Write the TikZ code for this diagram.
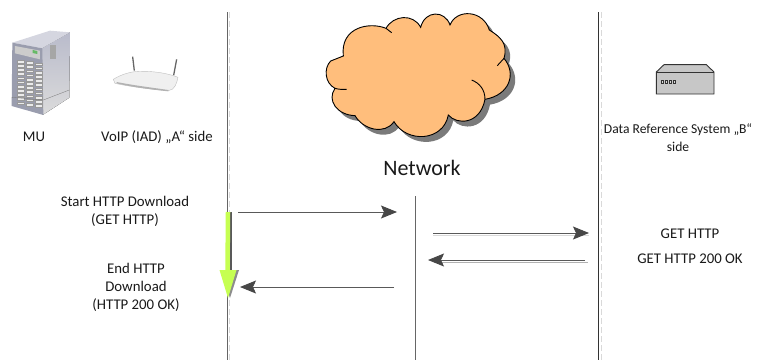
\documentclass[tikz,border=0pt]{standalone}
\usepackage{fontspec}
\setmainfont{Carlito}
\usetikzlibrary{arrows.meta}
\definecolor{cloudfill}{HTML}{FFBE7C}
\definecolor{gogreen}{HTML}{C6FF52}
\definecolor{srvfront}{HTML}{9A9DAE}
\definecolor{srvside}{HTML}{B9BBCB}
\definecolor{srvtop}{HTML}{D5D6E0}
\tikzset{
  lab/.style={align=center,font=\fontsize{14.8}{18}\selectfont,text=black!90,inner sep=0pt},
  lifeline/.style={draw=black!60,line width=0.9pt},
  ghost/.style={draw=black!15,line width=0.8pt,dash pattern=on 6pt off 3pt},
  msg/.style={draw=black!65,line width=0.9pt,-{Stealth[length=16pt,width=13pt,inset=3pt,color=black!72,fill=black!72]}},
  msgshadow/.style={draw=black!15,line width=0.8pt},
  bay/.style={fill=black!8,draw=black!40,line width=0.2pt}
}
\begin{document}
\begin{tikzpicture}[x=1pt,y=-1pt]
\useasboundingbox (0,0) rectangle (767,360);
% coordinates of the lifelines and messages
\coordinate (aTop) at (227,12); \coordinate (aBot) at (227,360);
\coordinate (aGTop) at (229.5,12); \coordinate (aGBot) at (229.5,360);
\coordinate (nTop) at (415,196); \coordinate (nBot) at (415,360);
\coordinate (bTop) at (598,12); \coordinate (bBot) at (598,360);
\coordinate (bGTop) at (601,12); \coordinate (bGBot) at (601,360);
\coordinate (m1s) at (238,212); \coordinate (m1e) at (397,212);
\coordinate (m2s) at (433,233); \coordinate (m2e) at (589,233);
\coordinate (m3s) at (585,260); \coordinate (m3e) at (428,260);
\coordinate (m3as) at (588,262.5); \coordinate (m3ae) at (440,262.5);
\coordinate (m4s) at (394,287); \coordinate (m4e) at (240,287);
\coordinate (gs) at (228,212); \coordinate (ge) at (228,298);
\coordinate (gd) at (231,212); \coordinate (gf) at (231,272);
% lifelines
\draw[ghost] (aGTop) -- (aGBot);
\draw[ghost] (bGTop) -- (bGBot);
\draw[lifeline] (aTop) -- (aBot);
\draw[lifeline] (nTop) -- (nBot);
\draw[lifeline,draw=black!80] (bTop) -- (bBot);
% messages
\draw[msgshadow] ([yshift=-2pt]m2s) -- ([yshift=-2pt]m2e);
\draw[msg] (m1s) -- (m1e);
\draw[msg] (m2s) -- (m2e);
\draw[msgshadow,draw=black!30] (m3as) -- (m3ae);
\draw[msg] (m3s) -- (m3e);
\draw[msg] (m4s) -- (m4e);
% green arrow
\draw[draw=black!65,line width=1.4pt] (gd) -- (gf);
\fill[black!45] (222,270) -- (239,270) -- (230,298) -- cycle;
\draw[draw=gogreen,line width=4.5pt] (gs) -- (227.5,272);
\fill[gogreen] (219.5,270) -- (236.5,270) -- (ge) -- cycle;
% cloud
\begin{scope}[shift={(300,0)},x=0.3333pt,y=-0.3333pt]
\def\cloudpath{(130,168) -- (92,183) .. controls (70,205) and (75,250) .. (105,265)
  .. controls (80,300) and (110,345) .. (165,347)
  .. controls (190,390) and (255,405) .. (282,365)
  .. controls (320,430) and (430,425) .. (445,345)
  .. controls (470,375) and (540,375) .. (555,298)
  .. controls (630,285) and (650,220) .. (612,175)
  .. controls (625,130) and (600,110) .. (568,90)
  .. controls (550,30) and (470,25) .. (450,75)
  .. controls (435,30) and (375,30) .. (362,82)
  .. controls (340,40) and (280,45) .. (258,85)
  .. controls (210,65) and (120,80) .. (130,168) -- cycle}
\fill[black!52,shift={(15,16)}] \cloudpath;
\filldraw[fill=cloudfill,draw=black,line width=0.9pt] \cloudpath;
\draw[black,line width=0.9pt] (258,85) -- (275,98);
\draw[black,line width=0.9pt] (105,265) .. controls (115,268) and (128,269) .. (140,268);
\draw[black,line width=0.9pt] (555,298) .. controls (555,270) and (540,250) .. (515,240);
\draw[black,line width=0.9pt] (612,175) -- (592,197);
\end{scope}
% server
\begin{scope}[x=0.3333pt,y=-0.3333pt]
\fill[top color=srvside,bottom color=black!14] (125,145) -- (210,97) -- (208,293) -- (128,345) -- cycle;
\fill[srvtop] (37,128) -- (150,92) -- (210,97) -- (125,145) -- cycle;
\fill[srvfront] (37,128) -- (127,145) -- (130,345) -- (35,318) -- cycle;
\fill[black!20] (45,138) -- (120,152) -- (120,178) -- (45,160) -- cycle;
\fill[green!55!black!60] (98,150) -- (112,153) -- (112,162) -- (98,159) -- cycle;
\fill[black!35] (150,135) rectangle (167,178);
\foreach \c in {0,1,2}{\foreach \r in {0,...,10}{
  \path[bay] ({52+\c*27},{180+\r*12.5+\c*4}) rectangle ({72+\c*27},{188+\r*12.5+\c*4});}}
\draw[black!55,line width=0.3pt] (35,292) -- (130,300) -- (208,270);
\end{scope}
% router
\begin{scope}[x=0.3333pt,y=-0.3333pt]
\draw[black!60,line width=1.3pt] (398,170) -- (403,212);
\draw[black!60,line width=1.3pt] (530,178) -- (521,226);
\filldraw[fill=black!6,draw=black!25,line width=0.4pt] (340,238) .. controls (365,222) and (400,212) .. (430,214)
  .. controls (470,214) and (510,222) .. (534,232) .. controls (530,250) and (525,270) .. (505,272)
  .. controls (450,268) and (380,258) .. (345,250) -- cycle;
\fill[black!30] (350,250) .. controls (400,262) and (450,268) .. (505,274) -- (505,270) .. controls (450,262) and (400,256) .. (350,246) -- cycle;
\end{scope}
% data box
\begin{scope}[shift={(590,50)},x=0.3333pt,y=-0.3333pt]
\filldraw[fill=black!22,draw=black!80,line width=0.9pt] (199,66) -- (222,44) -- (349,44) -- (372,66) -- (372,132) -- (199,132) -- cycle;
\draw[black!80,line width=0.9pt] (199,66) -- (372,66);
\foreach \i in {0,1,2,3} \filldraw[fill=black!15,draw=black!80,line width=0.6pt] ({213+\i*12},91) rectangle ({221+\i*12},99);
\end{scope}
% labels
\node[lab] (mu) at (34,137) {MU};
\node[lab] (voip) at (157,137) {VoIP (IAD) „A“ side};
\node[lab,font=\fontsize{22}{24}\selectfont] (net) at (422,168) {Network};
\node[lab,font=\fontsize{13.6}{18}\selectfont] (drs) at (678,137.5) {Data Reference System „B“\\side};
\node[lab] (start) at (125,211) {Start HTTP Download\\(GET HTTP)};
\node[lab] (end) at (136,287) {End HTTP\\Download\\(HTTP 200 OK)};
\node[lab] (get) at (690,234) {GET HTTP};
\node[lab] (ok) at (690,259) {GET HTTP 200 OK};
\end{tikzpicture}
\end{document}
